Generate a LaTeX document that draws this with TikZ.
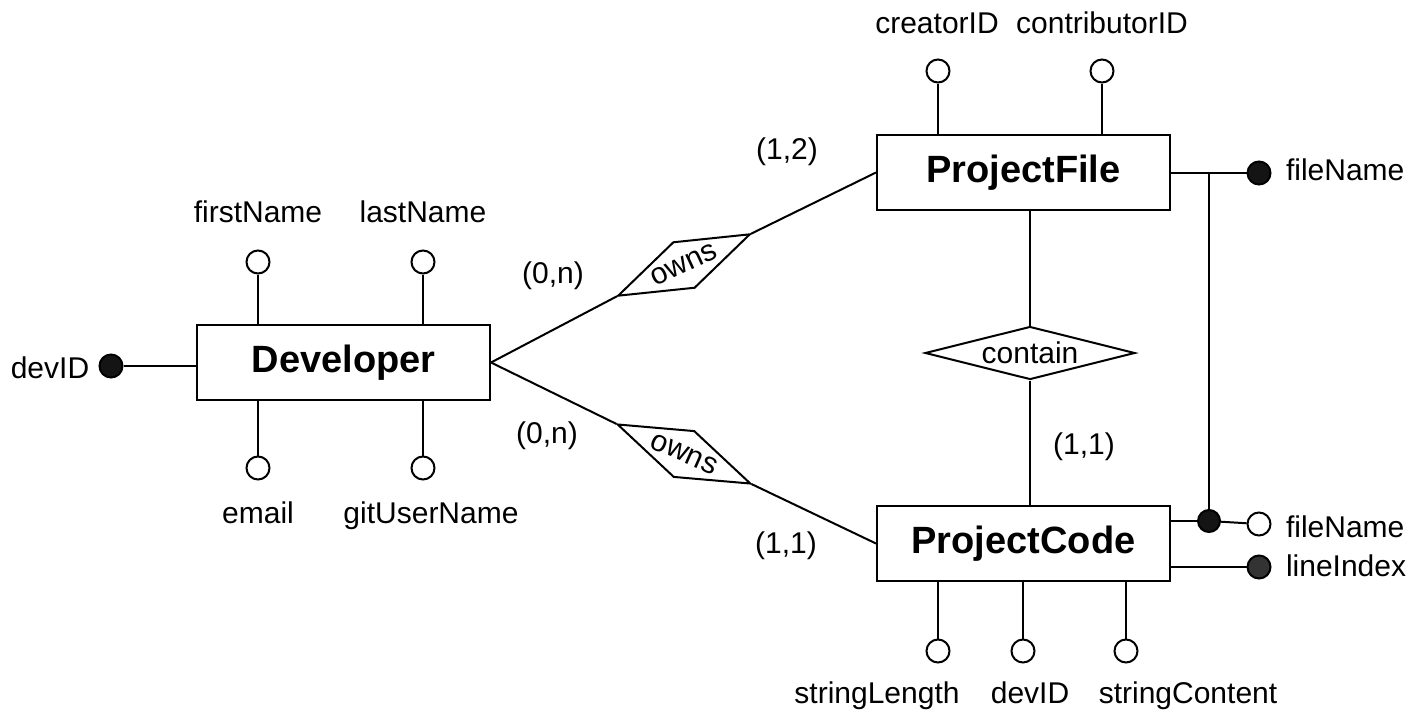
\documentclass[tikz,border=0pt]{standalone}
\usepackage{fontspec}
\setmainfont{Liberation Sans}
\usetikzlibrary{shapes.geometric}
\begin{document}
\begin{tikzpicture}[x=1pt,y=-1pt,line width=2pt,
  ent/.style={draw, minimum width=293pt, minimum height=75pt, inner sep=0pt, font=\fontsize{38}{40}\selectfont\bfseries},
  rel/.style={draw, diamond, inner sep=0pt, fill=white, font=\fontsize{30}{32}\selectfont},
  attr/.style={draw, circle, fill=white, minimum size=23pt, inner sep=0pt},
  keyattr/.style={draw, circle, fill=black!92, minimum size=23pt, inner sep=0pt},
  lbl/.style={font=\fontsize{30}{32}\selectfont, inner sep=0pt, anchor=base},
  rlbl/.style={font=\fontsize{30}{32}\selectfont, inner sep=0pt, anchor=base west}]
\useasboundingbox (0,0) rectangle (1426,723);

% entities
\node[ent] (dev) at (343.5,362.5) {Developer};
\node[ent] (pf) at (1023.5,172.5) {ProjectFile};
\node[ent] (pc) at (1023.5,543.5) {ProjectCode};

% relationships
\node[rel, minimum width=146pt, minimum height=51pt, shape aspect=2.9, rotate=25] (own1) at (684,265) {owns};
\node[rel, minimum width=146pt, minimum height=51pt, shape aspect=2.9, rotate=-24] (own2) at (684,454) {owns};
\node[rel, minimum width=210pt, minimum height=53pt, shape aspect=4] (con) at (1030,353) {contain};

\draw (dev.east) -- (own1.west);
\draw (own1.east) -- (pf.west);
\draw (dev.east) -- (own2.west);
\draw (own2.east) -- (pc.west);
\draw (pf.south -| con.north) -- (con.north);
\draw (con.south) -- (pc.north -| con.south);

% cardinalities
\node[lbl] (c1) at (553,283) {(0,n)};
\node[lbl] (c2) at (787,159) {(1,2)};
\node[lbl] (c3) at (547,443) {(0,n)};
\node[lbl] (c4) at (786,553) {(1,1)};
\node[lbl] (c5) at (1084,454) {(1,1)};

% Developer attributes
\node[keyattr] (devid) at (111,366) {};
\draw (devid) -- (dev.west |- devid);
\node[lbl] (devidl) at (50,378) {devID};

\node[attr] (fn) at (258,262) {};
\draw (fn) -- (fn |- dev.north);
\node[lbl] (fnl) at (258,222) {firstName};
\node[attr] (ln) at (423,262) {};
\draw (ln) -- (ln |- dev.north);
\node[lbl] (lnl) at (423,222) {lastName};
\node[attr] (em) at (258,468) {};
\draw (em) -- (em |- dev.south);
\node[lbl] (eml) at (258,523) {email};
\node[attr] (gu) at (423,468) {};
\draw (gu) -- (gu |- dev.south);
\node[lbl] (gul) at (431,523) {gitUserName};

% ProjectFile attributes
\node[attr] (cr) at (938,71) {};
\draw (cr) -- (cr |- pf.north);
\node[lbl] (crl) at (937,33) {creatorID};
\node[attr] (co) at (1102,71) {};
\draw (co) -- (co |- pf.north);
\node[lbl] (col) at (1102,33) {contributorID};
\node[keyattr] (pffn) at (1259,173) {};
\draw (pffn) -- (pf.east |- pffn);
\node[rlbl] (pffnl) at (1285,180) {fileName};

% ProjectCode attributes
\node[keyattr, minimum size=22pt] (jn) at (1209,521) {};
\coordinate (jt) at (1209,173);
\draw (jt) -- (jn);
\draw (pc.east |- jn) -- (jn);
\node[attr] (pcfn) at (1259,524) {};
\draw (jn) -- (pcfn);
\node[rlbl] (pcfnl) at (1285,537) {fileName};
\node[keyattr, fill=black!80] (li) at (1259,567) {};
\draw (li) -- (pc.east |- li);
\node[rlbl] (lil) at (1285,576) {lineIndex};

\node[attr] (sl) at (938,651) {};
\draw (sl) -- (sl |- pc.south);
\node[lbl] (sll) at (877,703) {stringLength};
\node[attr] (pdid) at (1023,651) {};
\draw (pdid) -- (pdid |- pc.south);
\node[lbl] (pdidl) at (1030,703) {devID};
\node[attr] (sc) at (1126,651) {};
\draw (sc) -- (sc |- pc.south);
\node[lbl] (scl) at (1188,703) {stringContent};
\end{tikzpicture}
\end{document}
